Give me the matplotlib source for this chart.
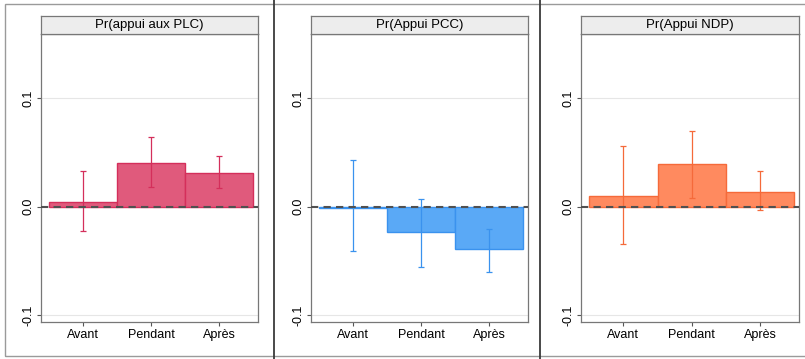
import numpy as np
import matplotlib
matplotlib.use('Agg')
import matplotlib.pyplot as plt
from matplotlib.patches import Rectangle
from matplotlib.lines import Line2D

periods = ["Avant", "Pendant", "Après"]
titles = ["Pr(appui aux PLC)", "Pr(Appui PCC)", "Pr(Appui NDP)"]

plc = [0.004, 0.040, 0.031]
plc_lo = [-0.022, 0.018, 0.017]
plc_hi = [0.033, 0.064, 0.047]

pcc = [-0.001, -0.023, -0.039]
pcc_lo = [-0.041, -0.055, -0.060]
pcc_hi = [0.043, 0.007, -0.020]

ndp = [0.010, 0.039, 0.014]
ndp_lo = [-0.034, 0.008, -0.003]
ndp_hi = [0.056, 0.070, 0.033]

fills = ["#e05a7c", "#5aa9f6", "#ff8a5f"]
edges = ["#d42f5b", "#3a92ee", "#f56a3a"]

W, H = 805, 359
fig = plt.figure(figsize=(W / 100, H / 100), dpi=100)
plt.rcParams['font.family'] = ['Liberation Sans', 'DejaVu Sans']

def px(x0, y0, x1, y1):
    # pixel box (top-left origin) -> figure fraction
    return [x0 / W, 1 - y1 / H, (x1 - x0) / W, (y1 - y0) / H]

# outer frame and panel dividers
fig.add_artist(Rectangle((5 / W, 1 - 356 / H), 1.2, (356 - 4) / H, transform=fig.transFigure,
                         fill=False, edgecolor="#9a9a9a", lw=1.0))
for xd in (274, 540):
    fig.add_artist(Line2D([xd / W, xd / W], [0, 1], transform=fig.transFigure, color="#3a3a3a", lw=1.3))

boxes = [(41, 258), (311, 528), (581, 799)]
data = [(plc, plc_lo, plc_hi), (pcc, pcc_lo, pcc_hi), (ndp, ndp_lo, ndp_hi)]

for i, (x0, x1) in enumerate(boxes):
    ax = fig.add_axes(px(x0, 34, x1, 322))
    vals, lo, hi = data[i]
    xs = np.arange(1, 4)
    ax.axhline(0.1, color="#e6e6e6", lw=0.8, zorder=0)
    ax.axhline(-0.1, color="#e6e6e6", lw=0.8, zorder=0)
    ax.bar(xs, vals, width=1.0, color=fills[i], edgecolor=edges[i], lw=1.0, zorder=2)
    v = np.array(vals)
    yerr = [v - np.array(lo), np.array(hi) - v]
    ax.errorbar(xs, vals, yerr=yerr, fmt="none", ecolor=edges[i], elinewidth=0.9,
                capsize=2.5, capthick=0.9, zorder=3)
    ax.axhline(0, color="#505050", lw=1.5, ls=(0, (3.5, 2.5)), zorder=4)
    ax.set_xlim(0.38, 3.57)
    ax.set_ylim(-0.106, 0.159)
    ax.set_xticks(xs)
    ax.set_xticklabels(periods, fontsize=9)
    ax.set_yticks([-0.1, 0.0, 0.1])
    ax.set_yticklabels(["-0.1", "0.0", "0.1"], rotation=90, va="center", fontsize=9)
    ax.tick_params(length=3, width=0.8, color="#555555", pad=2)
    for s in ax.spines.values():
        s.set_color("#777777")
        s.set_linewidth(0.9)
    # title strip
    tax = fig.add_axes(px(x0, 16, x1, 34))
    tax.set_xticks([])
    tax.set_yticks([])
    tax.set_facecolor("#ededed")
    for s in tax.spines.values():
        s.set_color("#777777")
        s.set_linewidth(0.9)
    tax.text(0.5, 0.5, titles[i], ha="center", va="center", fontsize=9.5, transform=tax.transAxes)

fig.savefig("out.png", dpi=100, facecolor="white")
